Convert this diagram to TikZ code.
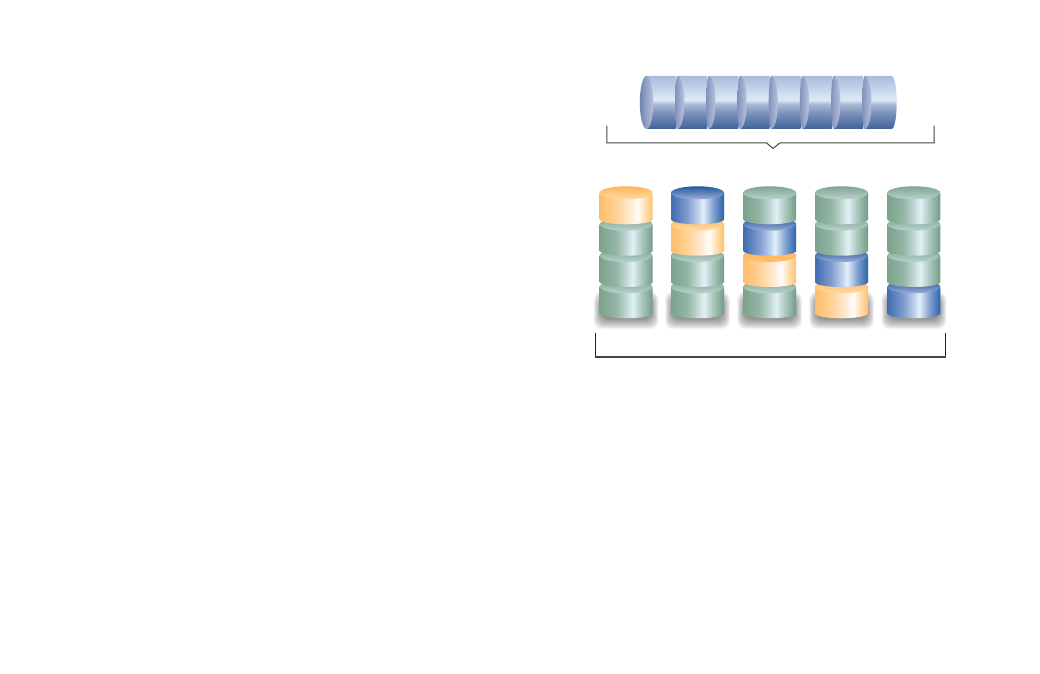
\documentclass[tikz,border=0pt]{standalone}
\usetikzlibrary{calc}
\definecolor{ga}{HTML}{7AA38D}\definecolor{gb}{HTML}{93B5A5}\definecolor{gc}{HTML}{C0D8D4}\definecolor{gd}{HTML}{E2F1F6}\definecolor{ge}{HTML}{A9C5BB}\definecolor{gf}{HTML}{739B85}
\definecolor{oa}{HTML}{FFBD68}\definecolor{ob}{HTML}{FFD49A}\definecolor{oc}{HTML}{FFEEDB}\definecolor{od}{HTML}{FFFDF8}\definecolor{oe}{HTML}{FFD9A5}\definecolor{of}{HTML}{FFBE6A}
\definecolor{ba}{HTML}{3D6CB0}\definecolor{bb}{HTML}{7F9BCF}\definecolor{bc}{HTML}{BCD0EA}\definecolor{bd}{HTML}{E2F0FA}\definecolor{be}{HTML}{7F9FD0}\definecolor{bf}{HTML}{2A62AD}
\pgfdeclarehorizontalshading{gside}{100bp}{color(0bp)=(ga);color(25bp)=(ga);color(40bp)=(gb);color(50bp)=(gc);color(56bp)=(gd);color(65bp)=(ge);color(75bp)=(gf);color(100bp)=(gf)}
\pgfdeclarehorizontalshading{oside}{100bp}{color(0bp)=(oa);color(25bp)=(oa);color(42bp)=(ob);color(55bp)=(oc);color(61bp)=(od);color(69bp)=(oe);color(75bp)=(of);color(100bp)=(of)}
\pgfdeclarehorizontalshading{bside}{100bp}{color(0bp)=(ba);color(25bp)=(ba);color(40bp)=(bb);color(50bp)=(bc);color(55bp)=(bd);color(65bp)=(be);color(75bp)=(bf);color(100bp)=(bf)}
\definecolor{gct}{HTML}{7FA594}\definecolor{gcb}{HTML}{BAD3CD}
\definecolor{oct}{HTML}{FFB65A}\definecolor{ocb}{HTML}{FFDCA8}\definecolor{oxb}{HTML}{FFBD6C}
\definecolor{bct}{HTML}{1F5A9F}\definecolor{bcb}{HTML}{A0ACD8}
\pgfdeclareverticalshading{gcap}{100bp}{color(0bp)=(gcb);color(25bp)=(gcb);color(75bp)=(gct);color(100bp)=(gct)}
\pgfdeclareverticalshading{ocap}{100bp}{color(0bp)=(ocb);color(25bp)=(ocb);color(75bp)=(oct);color(100bp)=(oct)}
\pgfdeclareverticalshading{bcap}{100bp}{color(0bp)=(bcb);color(25bp)=(bcb);color(75bp)=(bct);color(100bp)=(bct)}
\pgfdeclareverticalshading{oxcap}{100bp}{color(0bp)=(oxb);color(25bp)=(oxb);color(75bp)=(oct);color(100bp)=(oct)}
\pgfdeclarehorizontalshading{oxside}{100bp}{color(0bp)=(oa);color(25bp)=(oa);color(42bp)=(ob);color(55bp)=(oc);color(61bp)=(od);color(69bp)=(oe);color(75bp)=(of);color(100bp)=(of)}
\definecolor{ha}{HTML}{A9BCDB}\definecolor{hb}{HTML}{DAEAF7}\definecolor{hc}{HTML}{A8BBD5}\definecolor{hd}{HTML}{7B92BA}\definecolor{he}{HTML}{40629A}
\pgfdeclareverticalshading{hbody}{100bp}{color(0bp)=(he);color(25bp)=(he);color(40bp)=(hd);color(48.5bp)=(hc);color(52.5bp)=(hb);color(75bp)=(ha);color(100bp)=(ha)}
\definecolor{fa}{HTML}{6F84B2}\definecolor{fb}{HTML}{B8C1DF}\definecolor{fc}{HTML}{8391BC}\definecolor{fd}{HTML}{B9C2DF}
\pgfdeclarehorizontalshading{hface}{100bp}{color(0bp)=(fa);color(25bp)=(fa);color(75bp)=(fb);color(100bp)=(fb)}
\pgfdeclarehorizontalshading{hcres}{100bp}{color(0bp)=(fc);color(25bp)=(fc);color(75bp)=(fd);color(100bp)=(fd)}
\definecolor{bracket}{HTML}{444444}
\definecolor{bracketv}{HTML}{222222}
\tikzset{bracketline/.style={draw=bracket,line width=1pt,line join=miter},
  bracketthin/.style={draw=bracketv,line width=1pt},
  bracketheavy/.style={draw=bracket,line width=1.6pt}}
\newcommand{\vdisc}[3]{%
  \begin{scope}[shift={(#1,673-#2)}]
    \path[shading=#3side] (26.5,5) -- (26.5,31.5) -- (-26.5,31.5) -- (-26.5,5)
      arc[start angle=180,end angle=360,x radius=26.5,y radius=5] -- cycle;
    \path[shading=#3cap] (0,31.5) ellipse[x radius=26.5,y radius=6.5];
  \end{scope}}
\newcommand{\column}[5]{%
  \begin{scope}[shift={(#1,673)}]
    \foreach \k in {1,...,16}{
      \fill[black,opacity=.03,rounded corners=8pt]
        (-33+\k*.5,-330+\k*.7) rectangle (33-\k*.5,-291-\k*.5);
    }
  \end{scope}
  \vdisc{#1}{318.3}{#2}\vdisc{#1}{287}{#3}\vdisc{#1}{255.7}{#4}\vdisc{#1}{224.3}{#5}}
% body of a segment of the long cylinder: #1 = start x, #2 = x of flat end, #3 = bulge
\newcommand{\hbodyseg}[3]{%
  \path[shading=hbody] (#1,673-76) -- (#2,673-76)
    arc[start angle=90,end angle=-90,x radius=#3,y radius=26.5] -- (#1,673-129) -- cycle;}
% visible crescent of a face: #1 = x of its tips
\newcommand{\hcrescent}[1]{%
  \path[shading=hcres] (#1,673-76)
    arc[start angle=90,end angle=270,x radius=2.4,y radius=26.5]
    arc[start angle=-90,end angle=90,x radius=6.8,y radius=26.5] -- cycle;}
\begin{document}
\begin{tikzpicture}[x=1pt,y=1pt]
\useasboundingbox (0,0) rectangle (1040,673);
\fill[white] (0,0) rectangle (1040,673);
\foreach \xx in {646.5,677.5,708.7,739.9,771.1,802.3,833.5}{
  \pgfmathsetmacro{\xe}{\xx+29.2}
  \hbodyseg{\xx}{\xe}{1.8}
}
\hbodyseg{864.7}{891.7}{5}
\path[shading=hface] (646.5,673-102.5) ellipse[x radius=6.7,y radius=26.5];
\foreach \xx in {677.5,708.7,739.9,771.1,802.3,833.5,864.7}{\hcrescent{\xx}}
\coordinate (ta) at (606.8,673-125.7);
\coordinate (tb) at (606.8,673-142.8);
\coordinate (tn1) at (766.5,673-142.8);
\coordinate (tn) at (773,673-148.5);
\coordinate (tn2) at (780,673-142.8);
\coordinate (tc) at (934,673-142.8);
\coordinate (td) at (934,673-125.7);
\draw[bracketline] (ta) -- (tb) -- (tn1) -- (tn) -- (tn2) -- (tc) -- (td);
\coordinate (bka) at (595.4,673-332.7);
\coordinate (bkb) at (595.4,673-357);
\coordinate (bkc) at (945.6,673-357);
\coordinate (bkd) at (945.6,673-332.7);
\draw[bracketthin] (bka) -- (bkb) -- (bkc) -- (bkd);
\draw[bracketheavy] (bkb) -- (bkc);
\column{626.2}{g}{g}{g}{o}
\column{697.5}{g}{g}{o}{b}
\column{769.7}{g}{ox}{b}{g}
\column{841.5}{o}{b}{g}{g}
\column{913.8}{b}{g}{g}{g}
\end{tikzpicture}
\end{document}
